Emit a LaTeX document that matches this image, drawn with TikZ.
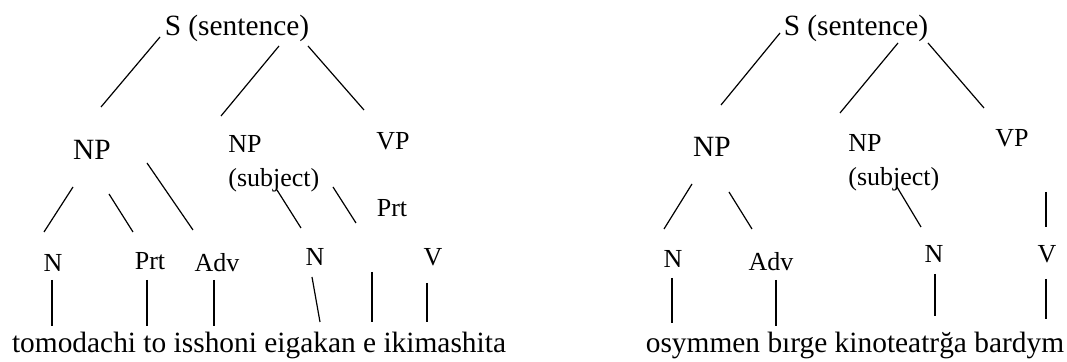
\documentclass[tikz,border=0pt]{standalone}
\usepackage{fontspec}
\setmainfont{Liberation Serif}
\usetikzlibrary{calc}

\begin{document}
\begin{tikzpicture}[
    x=0.5pt, y=-0.5pt,
    big/.style={inner sep=0pt, anchor=base, font=\fontsize{14.7}{17}\selectfont},
    small/.style={inner sep=0pt, anchor=base, font=\fontsize{13}{17}\selectfont},
    branch/.style={line width=0.6pt}
]
    \useasboundingbox (0,0) rectangle (1067,362);

    % 左边的树
    \node[big] (sL) at (237,36) {S (sentence)};
    \node[big] (npL) at (92,160) {NP};
    \node[small, anchor=base west, align=left] (npsL) at (228,187) {NP\\(subject)};
    \node[small] (vpL) at (393,150) {VP};
    \node[small] (prtuL) at (392,217) {Prt};
    \node[small] (nL) at (53,272) {N};
    \node[small] (prtL) at (150,270) {Prt};
    \node[small] (advL) at (217,272) {Adv};
    \node[small] (nsL) at (315,266) {N};
    \node[small] (vL) at (433,266) {V};
    \node[big] (sentL) at (259,353) {tomodachi to isshoni eigakan e ikimashita};

    % 左树的枝
    \draw[branch] ([shift={(-77,1)}]sL.base) -- ([shift={(9,-53)}]npL.base);
    \draw[branch] ([shift={(42,10)}]sL.base) -- ([shift={(-7,-71)}]npsL.base west);
    \draw[branch] ([shift={(71,10)}]sL.base) -- ([shift={(-29,-40)}]vpL.base);
    \draw[branch] ([shift={(-19,27)}]npL.base) -- ([shift={(-9,-40)}]nL.base);
    \draw[branch] ([shift={(17,34)}]npL.base) -- ([shift={(-17,-38)}]prtL.base);
    \draw[branch] ([shift={(55,3)}]npL.base) -- ([shift={(-24,-42)}]advL.base);
    \draw[branch] ([shift={(49,3)}]npsL.base west) -- ([shift={(-14,-38)}]nsL.base);
    \draw[branch] ([shift={(105,0)}]npsL.base west) -- ([shift={(-36,6)}]prtuL.base);
    \draw[branch] ([shift={(-1,8)}]nL.base) -- ([shift={(-207,-27)}]sentL.base);
    \draw[branch] ([shift={(-3,10)}]prtL.base) -- ([shift={(-112,-27)}]sentL.base);
    \draw[branch] ([shift={(-3,8)}]advL.base) -- ([shift={(-45,-27)}]sentL.base);
    \draw[branch] ([shift={(-3,11)}]nsL.base) -- ([shift={(61,-31)}]sentL.base);
    \draw[branch] ([shift={(-20,55)}]prtuL.base) -- ([shift={(113,-31)}]sentL.base);
    \draw[branch] ([shift={(-6,17)}]vL.base) -- ([shift={(168,-31)}]sentL.base);

    % 右边的树
    \node[big] (sR) at (856,36) {S (sentence)};
    \node[big] (npR) at (712,157) {NP};
    \node[small, anchor=base west, align=left] (npsR) at (848,186) {NP\\(subject)};
    \node[small] (vpR) at (1012,147) {VP};
    \node[small] (nR) at (673,268) {N};
    \node[small] (advR) at (771,271) {Adv};
    \node[small] (nsR) at (934,263) {N};
    \node[small] (vR) at (1047,263) {V};
    \node[big] (sentR) at (855,353) {osymmen bırge kinoteatrğa bardym};

    % 右树的枝
    \draw[branch] ([shift={(-76,-3)}]sR.base) -- ([shift={(9,-52)}]npR.base);
    \draw[branch] ([shift={(42,7)}]sR.base) -- ([shift={(-8,-73)}]npsR.base west);
    \draw[branch] ([shift={(72,7)}]sR.base) -- ([shift={(-28,-39)}]vpR.base);
    \draw[branch] ([shift={(-20,27)}]npR.base) -- ([shift={(-9,-39)}]nR.base);
    \draw[branch] ([shift={(17,35)}]npR.base) -- ([shift={(-19,-42)}]advR.base);
    \draw[branch] ([shift={(49,1)}]npsR.base west) -- ([shift={(-13,-36)}]nsR.base);
    \draw[branch] ([shift={(34,45)}]vpR.base) -- ([shift={(-1,-36)}]vR.base);
    \draw[branch] ([shift={(-1,10)}]nR.base) -- ([shift={(-183,-30)}]sentR.base);
    \draw[branch] ([shift={(5,9)}]advR.base) -- ([shift={(-79,-27)}]sentR.base);
    \draw[branch] ([shift={(1,11)}]nsR.base) -- ([shift={(80,-37)}]sentR.base);
    \draw[branch] ([shift={(-1,16)}]vR.base) -- ([shift={(191,-34)}]sentR.base);
\end{tikzpicture}
\end{document}
